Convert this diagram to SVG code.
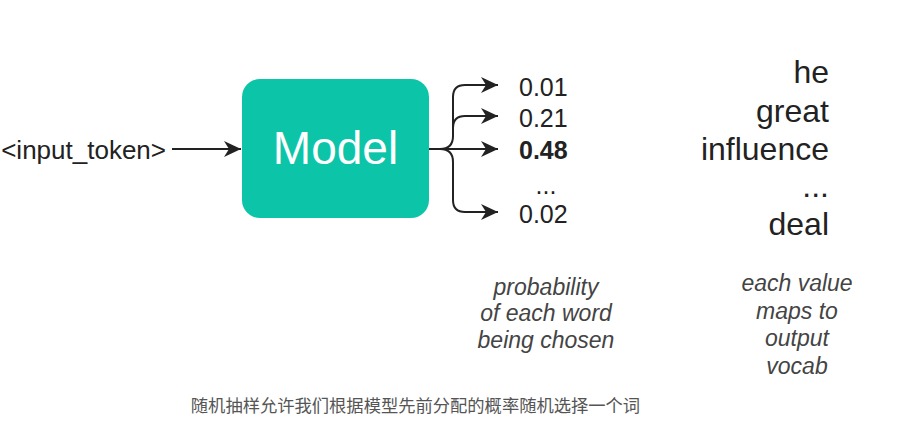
<svg xmlns="http://www.w3.org/2000/svg" width="924" height="424" viewBox="0 0 924 424">
  <defs>
    <marker id="arr" markerWidth="18" markerHeight="16" refX="17" refY="8" orient="auto" markerUnits="userSpaceOnUse">
      <path d="M0,0 L17,8 L0,16 L5,8 Z" fill="#222"/>
    </marker>
    <style>
      .t { font-family: "Liberation Sans", Arial, sans-serif; fill: #222; }
      .num { font-size: 25px; }
      .word { font-size: 32px; text-anchor: end; }
      .note { font-family: "Liberation Sans", Arial, sans-serif; font-style: italic; font-size: 23px; fill: #444; text-anchor: middle; }
      .edge { fill: none; stroke: #222; stroke-width: 2; }
    </style>
  </defs>
  <rect width="924" height="424" fill="#ffffff"/>

  <g id="input">
    <text class="t" x="166" y="159" font-size="26" text-anchor="end">&lt;input_token&gt;</text>
  </g>

  <g id="model">
    <rect x="242" y="79" width="187" height="139" rx="18" fill="#0cc5a8"/>
    <text x="335.5" y="164" font-family="Liberation Sans, Arial, sans-serif" font-size="46" fill="#ffffff" text-anchor="middle">Model</text>
  </g>

  <g id="connectors">
    <path class="edge" d="M172,149 H241" marker-end="url(#arr)"/>
    <path class="edge" d="M429,149 H498" marker-end="url(#arr)"/>
    <path class="edge" d="M440,149 Q453,149 453,136 V97 Q453,85 465,85 H498" marker-end="url(#arr)"/>
    <path class="edge" d="M453,128 Q453,116 465,116 H498" marker-end="url(#arr)"/>
    <path class="edge" d="M440,149 Q453,149 453,162 V200 Q453,212 465,212 H498" marker-end="url(#arr)"/>
  </g>

  <g id="probabilities">
    <text class="t num" x="519" y="96">0.01</text>
    <text class="t num" x="519" y="127">0.21</text>
    <text class="t num" x="519" y="159" font-weight="bold">0.48</text>
    <text class="t num" x="546" y="194" text-anchor="middle">...</text>
    <text class="t num" x="519" y="223">0.02</text>
  </g>

  <g id="vocab">
    <text class="t word" x="829" y="83">he</text>
    <text class="t word" x="829" y="122">great</text>
    <text class="t word" x="829" y="160">influence</text>
    <text class="t word" x="829" y="197">...</text>
    <text class="t word" x="829" y="235">deal</text>
  </g>

  <g id="note-probability">
    <text class="note" x="546" y="295">probability</text>
    <text class="note" x="546" y="321">of each word</text>
    <text class="note" x="546" y="348">being chosen</text>
  </g>

  <g id="note-vocab">
    <text class="note" x="797" y="291" font-size="22">each value</text>
    <text class="note" x="797" y="319" font-size="22">maps to</text>
    <text class="note" x="797" y="346" font-size="22">output</text>
    <text class="note" x="797" y="374" font-size="22">vocab</text>
  </g>

  <g id="caption">
    <text x="415.5" y="412" font-family="'Noto Sans CJK SC', 'Noto Sans', sans-serif" font-size="17.3" fill="#555" text-anchor="middle">随机抽样允许我们根据模型先前分配的概率随机选择一个词</text>
  </g>
</svg>
